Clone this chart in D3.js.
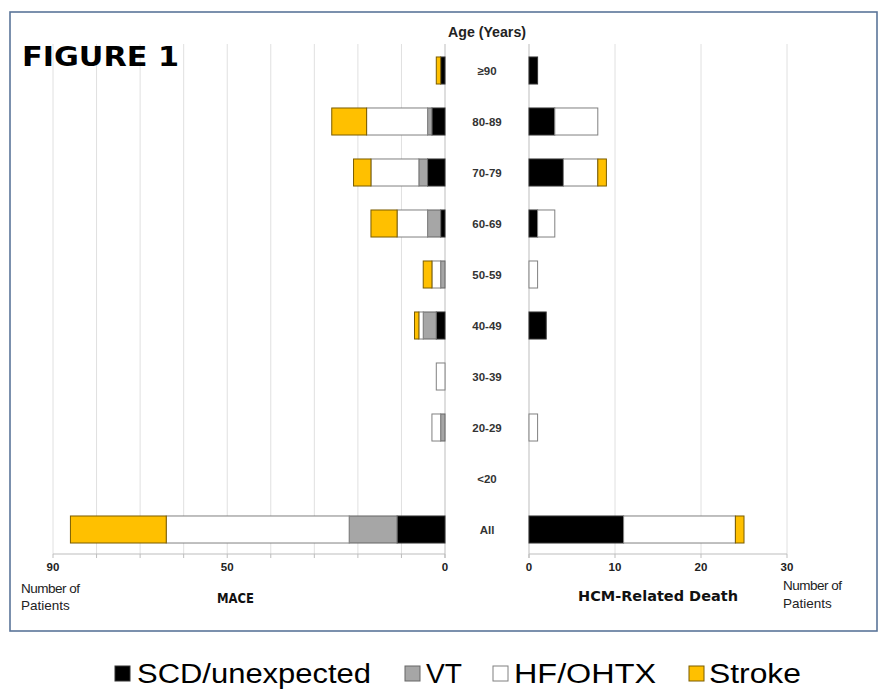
<!DOCTYPE html>
<html><head><meta charset="utf-8">
<script src="https://cdn.jsdelivr.net/npm/d3@7"></script>
<style>html,body{margin:0;padding:0;background:#fff;}svg{display:block;}</style>
</head><body>
<svg id="chart" width="880" height="689"></svg>
<script>
// ---- data ----
const ages = ["≥90","80-89","70-79","60-69","50-59","40-49","30-39","20-29","<20","All"];
const seriesNames = ["SCD/unexpected","VT","HF/OHTX","Stroke"];
const maceSCD    = [1,3,4,1,0,2,0,0,0,11];
const maceVT     = [0,1,2,3,1,3,0,1,0,11];
const maceHF     = [0,14,11,7,2,1,2,2,0,42];
const maceStroke = [1,8,4,6,2,1,0,0,0,22];
const deathSCD    = [1,3,4,1,0,2,0,0,0,11];
const deathVT     = [0,0,0,0,0,0,0,0,0,0];
const deathHF     = [0,5,4,2,1,0,0,1,0,13];
const deathStroke = [0,0,1,0,0,0,0,0,0,1];
const leftTicks = [90,50,0];
const rightTicks = [0,10,20,30];

const fills = {"SCD/unexpected":"#000000","VT":"#a6a6a6","HF/OHTX":"#ffffff","Stroke":"#ffc000"};
const strokes = {"SCD/unexpected":"#333333","VT":"#666666","HF/OHTX":"#808080","Stroke":"#7a5c00"};

function table(a,b,c,d){ return ages.map((age,i)=>({age, "SCD/unexpected":a[i], "VT":b[i], "HF/OHTX":c[i], "Stroke":d[i]})); }
const maceData = table(maceSCD,maceVT,maceHF,maceStroke);
const deathData = table(deathSCD,deathVT,deathHF,deathStroke);

const svg = d3.select("#chart");
const axisY = 554;
const y = d3.scaleBand().domain(ages).range([45, 555]).paddingInner(0.47).paddingOuter(0.235);
const xL = d3.scaleLinear().domain([0,90]).range([445,53]);
const xR = d3.scaleLinear().domain([0,30]).range([529,787]);

// frame
svg.append("rect").attr("x",10).attr("y",12).attr("width",867).attr("height",619)
  .attr("fill","#fff").attr("stroke","#5b7599").attr("stroke-width",1.6);

// gridlines
const gl = svg.append("g");
gl.selectAll("line.l").data(d3.range(10,100,10)).join("line")
  .attr("x1",d=>xL(d)).attr("x2",d=>xL(d)).attr("y1",44).attr("y2",axisY)
  .attr("stroke","#e0e0e0").attr("stroke-width",1);
gl.selectAll("line.r").data(d3.range(10,40,10)).join("line").attr("class","r")
  .attr("x1",d=>xR(d)).attr("x2",d=>xR(d)).attr("y1",44).attr("y2",axisY)
  .attr("stroke","#e0e0e0").attr("stroke-width",1);
// zero lines
svg.append("line").attr("x1",xL(0)).attr("x2",xL(0)).attr("y1",44).attr("y2",axisY+4).attr("stroke","#bdbdbd");
svg.append("line").attr("x1",xR(0)).attr("x2",xR(0)).attr("y1",44).attr("y2",axisY+4).attr("stroke","#bdbdbd");

// axes
function drawAxis(scale, ticks, labels){
  const g = svg.append("g");
  const [a,b] = scale.range();
  g.append("line").attr("x1",Math.min(a,b)).attr("x2",Math.max(a,b)).attr("y1",axisY).attr("y2",axisY).attr("stroke","#bdbdbd");
  g.selectAll("line.t").data(ticks).join("line").attr("class","t")
    .attr("x1",d=>scale(d)).attr("x2",d=>scale(d)).attr("y1",axisY).attr("y2",axisY+4).attr("stroke","#bdbdbd");
  g.selectAll("text").data(labels).join("text")
    .attr("x",d=>scale(d)).attr("y",axisY+17).attr("text-anchor","middle")
    .attr("font-family","'Liberation Sans',Arial,sans-serif").attr("font-weight","bold").attr("font-size",11.5).attr("fill","#222")
    .text(d=>d);
}
drawAxis(xL, d3.range(0,100,10), leftTicks);
drawAxis(xR, d3.range(0,40,10), rightTicks);

// stacked bars
const stack = d3.stack().keys(seriesNames);
function drawBars(data, scale){
  const layers = stack(data);
  svg.append("g").selectAll("g").data(layers).join("g")
    .attr("fill",d=>fills[d.key]).attr("stroke",d=>strokes[d.key]).attr("stroke-width",1)
    .selectAll("rect").data(d=>d.filter(p=>p[1]-p[0]>0)).join("rect")
      .attr("x",p=>Math.min(scale(p[0]),scale(p[1])))
      .attr("width",p=>Math.abs(scale(p[1])-scale(p[0])))
      .attr("y",p=>y(p.data.age))
      .attr("height",y.bandwidth());
}
drawBars(maceData, xL);
drawBars(deathData, xR);

// center labels
svg.append("g").selectAll("text").data(ages).join("text")
  .attr("x",487).attr("y",d=>y(d)+y.bandwidth()/2+4).attr("text-anchor","middle")
  .attr("font-family","'Liberation Sans',Arial,sans-serif").attr("font-weight","bold").attr("font-size",11.5).attr("fill","#333")
  .text(d=>d);
svg.append("text").attr("x",487).attr("y",37).attr("text-anchor","middle")
  .attr("font-family","'Liberation Sans Narrow','Liberation Sans',Arial,sans-serif").attr("font-weight","bold").attr("font-size",14).attr("fill","#222")
  .attr("textLength",78).attr("lengthAdjust","spacingAndGlyphs")
  .text("Age (Years)");

// titles
svg.append("text").attr("x",22).attr("y",66)
  .attr("font-family","'DejaVu Sans',sans-serif").attr("font-weight","bold").attr("font-size",26)
  .attr("textLength",157).attr("lengthAdjust","spacingAndGlyphs").attr("fill","#000").text("FIGURE 1");
svg.append("text").attr("x",217).attr("y",603)
  .attr("font-family","'DejaVu Sans',sans-serif").attr("font-weight","bold").attr("font-size",13.5)
  .attr("textLength",37).attr("lengthAdjust","spacingAndGlyphs").attr("fill","#111").text("MACE");
svg.append("text").attr("x",578).attr("y",601)
  .attr("font-family","'DejaVu Sans',sans-serif").attr("font-weight","bold").attr("font-size",13.5)
  .attr("textLength",160).attr("lengthAdjust","spacingAndGlyphs").attr("fill","#111").text("HCM-Related Death");

// axis titles
function npText(x, y1, y2){
  const t = svg.append("text").attr("font-family","'Liberation Sans',Arial,sans-serif").attr("font-size",13.5).attr("fill","#222");
  t.append("tspan").attr("x",x).attr("y",y1).attr("letter-spacing",-0.5).text("Number of");
  t.append("tspan").attr("x",x).attr("y",y2).text("Patients");
}
npText(21, 593, 610);
npText(783, 590, 608);

// legend
const legendItems = [
  {k:"SCD/unexpected", sx:115, tx:137, tw:234},
  {k:"VT", sx:405, tx:426, tw:36},
  {k:"HF/OHTX", sx:493, tx:514, tw:142},
  {k:"Stroke", sx:689, tx:709, tw:92}
];
const lg = svg.append("g");
lg.selectAll("rect").data(legendItems).join("rect")
  .attr("x",d=>d.sx).attr("y",666).attr("width",15).attr("height",15)
  .attr("fill",d=>fills[d.k]).attr("stroke",d=>strokes[d.k]).attr("stroke-width",1);
lg.selectAll("text").data(legendItems).join("text")
  .attr("x",d=>d.tx).attr("y",683)
  .attr("font-family","'Liberation Sans Narrow','Liberation Sans',Arial,sans-serif").attr("font-size",27).attr("fill","#000")
  .attr("textLength",d=>d.tw).attr("lengthAdjust","spacingAndGlyphs")
  .text(d=>d.k);
</script>
</body></html>
